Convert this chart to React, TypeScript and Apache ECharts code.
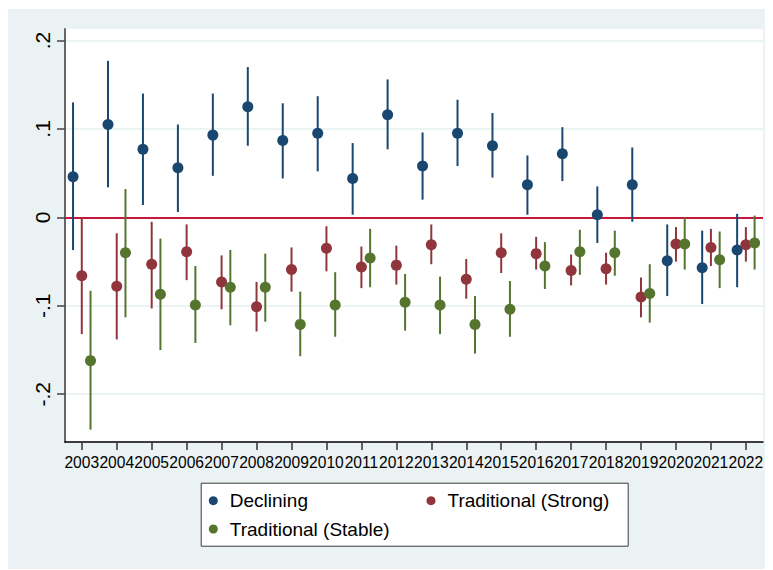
import React, { useEffect, useRef } from "react";
import * as echarts from "echarts";

// Survey years on the x axis
const years = [
  2003, 2004, 2005, 2006, 2007, 2008, 2009, 2010, 2011, 2012,
  2013, 2014, 2015, 2016, 2017, 2018, 2019, 2020, 2021, 2022,
];

// Point estimates and 95% confidence bounds per group
const declining = [0.046, 0.105, 0.077, 0.056, 0.093, 0.125, 0.087, 0.095, 0.044, 0.116, 0.058, 0.095, 0.081, 0.037, 0.072, 0.003, 0.037, -0.049, -0.057, -0.037];
const decliningLo = [-0.037, 0.034, 0.014, 0.006, 0.047, 0.081, 0.044, 0.052, 0.003, 0.077, 0.02, 0.058, 0.045, 0.003, 0.041, -0.029, -0.005, -0.089, -0.098, -0.079];
const decliningHi = [0.13, 0.177, 0.14, 0.105, 0.14, 0.17, 0.129, 0.137, 0.084, 0.156, 0.096, 0.133, 0.118, 0.07, 0.102, 0.035, 0.079, -0.008, -0.015, 0.004];

const strong = [-0.066, -0.078, -0.053, -0.039, -0.073, -0.101, -0.059, -0.035, -0.056, -0.054, -0.031, -0.07, -0.04, -0.041, -0.06, -0.058, -0.09, -0.03, -0.034, -0.031];
const strongLo = [-0.132, -0.138, -0.103, -0.071, -0.104, -0.129, -0.084, -0.061, -0.08, -0.076, -0.053, -0.092, -0.063, -0.059, -0.077, -0.076, -0.113, -0.05, -0.055, -0.05];
const strongHi = [0.0, -0.018, -0.005, -0.008, -0.043, -0.073, -0.034, -0.01, -0.033, -0.032, -0.008, -0.047, -0.018, -0.022, -0.042, -0.04, -0.068, -0.011, -0.013, -0.011];

const stable = [-0.162, -0.04, -0.087, -0.099, -0.079, -0.079, -0.121, -0.099, -0.046, -0.096, -0.099, -0.121, -0.104, -0.055, -0.039, -0.04, -0.086, -0.03, -0.048, -0.029];
const stableLo = [-0.24, -0.113, -0.15, -0.142, -0.122, -0.118, -0.157, -0.135, -0.079, -0.128, -0.132, -0.154, -0.135, -0.081, -0.065, -0.066, -0.119, -0.059, -0.08, -0.059];
const stableHi = [-0.083, 0.032, -0.024, -0.055, -0.037, -0.041, -0.084, -0.062, -0.013, -0.064, -0.067, -0.089, -0.072, -0.028, -0.014, -0.015, -0.053, 0.0, -0.016, 0.002];

// Y axis ticks and their labels
const yTickValues = [-0.2, -0.1, 0, 0.1, 0.2];
const yTickLabels = ["-.2", "-.1", "0", ".1", ".2"];

const FONT = "'Liberation Sans', Arial, Helvetica, sans-serif";

type Group = {
  name: string;
  color: string;
  offset: number;
  est: number[];
  lo: number[];
  hi: number[];
};

const groups: Group[] = [
  { name: "Declining", color: "#1A476F", offset: -0.25, est: declining, lo: decliningLo, hi: decliningHi },
  { name: "Traditional (Strong)", color: "#90353B", offset: 0, est: strong, lo: strongLo, hi: strongHi },
  { name: "Traditional (Stable)", color: "#55752F", offset: 0.25, est: stable, lo: stableLo, hi: stableHi },
];

export default function App() {
  const ref = useRef<HTMLDivElement>(null);

  useEffect(() => {
    if (!ref.current) return;
    const chart = echarts.init(ref.current, undefined, { renderer: "svg" });

    const series: any[] = [];
    groups.forEach((g, gi) => {
      series.push({
        name: g.name + " CI",
        type: "custom",
        z: 3 + gi * 2,
        data: years.map((y, i) => [y + g.offset, g.lo[i], g.hi[i]]),
        encode: { x: 0, y: [1, 2] },
        renderItem: (params: any, api: any) => {
          const x = api.value(0);
          const p1 = api.coord([x, api.value(1)]);
          const p2 = api.coord([x, api.value(2)]);
          return {
            type: "line",
            shape: { x1: p1[0], y1: p1[1], x2: p2[0], y2: p2[1] },
            style: { stroke: g.color, lineWidth: 2 },
          };
        },
        silent: true,
      });
      series.push({
        name: g.name,
        type: "scatter",
        z: 4 + gi * 2,
        symbol: "circle",
        symbolSize: 11,
        itemStyle: { color: g.color, opacity: 1 },
        data: years.map((y, i) => [y + g.offset, g.est[i]]),
        ...(gi === 0
          ? {
              markLine: {
                silent: true,
                symbol: "none",
                label: { show: false },
                lineStyle: { color: "#C8173A", width: 2, type: "solid" },
                data: [{ yAxis: 0 }],
                z: 2,
              },
            }
          : {}),
      });
    });

    const legendCommon = {
      orient: "horizontal",
      padding: 0,
      icon: "circle",
      itemWidth: 9,
      itemHeight: 9,
      selectedMode: false,
      textStyle: {
        fontFamily: FONT,
        fontSize: 19,
        color: "#000",
        padding: [0, 0, 0, 7],
        lineHeight: 22,
      },
    };

    chart.setOption({
      animation: false,
      backgroundColor: "#EAF2F3",
      grid: {
        left: 57,
        top: 20,
        width: 698,
        height: 413,
        show: true,
        backgroundColor: "#FFFFFF",
        borderWidth: 0,
      },
      xAxis: {
        type: "value",
        min: 2002.52,
        max: 2022.49,
        axisLine: { show: true, onZero: false, lineStyle: { color: "#000", width: 1.5 } },
        axisTick: {
          show: true,
          length: 8,
          customValues: years,
          lineStyle: { color: "#333", width: 1.5 },
        },
        axisLabel: {
          customValues: years,
          formatter: (v: number) => String(v),
          fontFamily: FONT,
          fontSize: 15.6,
          color: "#000",
          margin: 12,
        },
        splitLine: { show: false },
      },
      yAxis: {
        type: "value",
        min: -0.254,
        max: 0.213,
        axisLine: { show: true, onZero: false, lineStyle: { color: "#666", width: 2 } },
        axisTick: {
          show: true,
          length: 8,
          customValues: yTickValues,
          lineStyle: { color: "#444", width: 1.5 },
        },
        axisLabel: {
          customValues: yTickValues,
          rotate: 90,
          formatter: (v: number) => {
            const idx = yTickValues.findIndex((t) => Math.abs(t - v) < 1e-9);
            return idx >= 0 ? yTickLabels[idx] : "";
          },
          fontFamily: FONT,
          fontSize: 21,
          color: "#000",
          margin: 12,
        },
        splitLine: {
          show: true,
          lineStyle: { color: "#E6EFF1", width: 1.5 },
        },
      },
      legend: [
        { ...legendCommon, data: ["Declining"], left: 200.8, top: 480.7 },
        { ...legendCommon, data: ["Traditional (Strong)"], left: 418.5, top: 480.7 },
        { ...legendCommon, data: ["Traditional (Stable)"], left: 200.8, top: 509 },
      ],
      graphic: [
        {
          type: "rect",
          left: 192.7,
          top: 473.7,
          z: -1,
          shape: { width: 427, height: 63 },
          style: { fill: "#FFFFFF", stroke: "#3A3A3A", lineWidth: 1 },
        },
      ],
      series,
    });

    return () => chart.dispose();
  }, []);

  return (
    <div
      ref={ref}
      style={{ width: 765, height: 561, position: "relative", top: 1 }}
    />
  );
}
